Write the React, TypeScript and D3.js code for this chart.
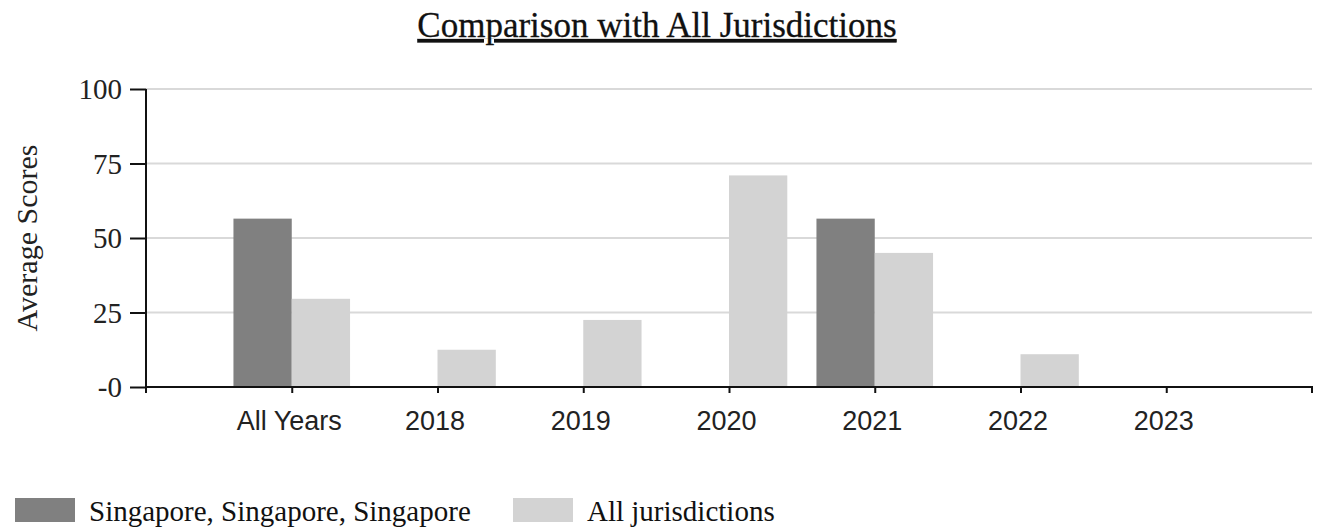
import React, { useEffect, useRef } from 'react';
import * as d3 from 'd3';

const categories = ['All Years', '2018', '2019', '2020', '2021', '2022', '2023'];
const seriesNames = ['Singapore, Singapore, Singapore', 'All jurisdictions'];
const singaporeValues = [56.5, null, null, null, 56.5, null, null];
const allJurisdictionValues = [29.6, 12.5, 22.5, 71, 45, 11, null];
const yTicks = [0, 25, 50, 75, 100];
const seriesColors = ['#808080', '#d3d3d3'];

export default function App() {
  const svgRef = useRef<SVGSVGElement>(null);

  useEffect(() => {
    if (!svgRef.current) return;
    document.body.style.margin = '0';

    const width = 1317;
    const height = 527;
    const left = 146;
    const right = 1312;
    const top = 89;
    const bottom = 387;

    const svg = d3.select(svgRef.current);
    svg.selectAll('*').remove();
    svg.attr('width', width).attr('height', height);

    const x = d3.scalePoint<string>().domain(categories).range([left, right]).padding(1);
    const step = x.step();
    const y = d3.scaleLinear().domain([0, 100]).range([bottom, top]);
    const x1 = d3.scaleBand<number>().domain([0, 1]).range([-step * 0.4, step * 0.4]);

    // title
    svg.append('text')
      .attr('x', 657)
      .attr('y', 37)
      .attr('text-anchor', 'middle')
      .style('font-family', '"Liberation Serif", serif')
      .style('font-size', '35px')
      .style('text-decoration', 'underline')
      .attr('fill', '#111')
      .attr('stroke', '#111')
      .attr('stroke-width', 0.3)
      .text('Comparison with All Jurisdictions');

    // grid
    svg.append('g')
      .selectAll('line')
      .data(yTicks.filter(d => d > 0))
      .enter()
      .append('line')
      .attr('x1', left)
      .attr('x2', right)
      .attr('y1', d => y(d))
      .attr('y2', d => y(d))
      .attr('stroke', '#d9d9d9')
      .attr('stroke-width', 2);

    // bars
    const series = [singaporeValues, allJurisdictionValues];
    series.forEach((vals, si) => {
      svg.append('g')
        .selectAll('rect')
        .data(categories.map((c, i) => ({ c, v: vals[i] })).filter(d => d.v != null))
        .enter()
        .append('rect')
        .attr('x', d => (x(d.c) as number) + (x1(si) as number))
        .attr('y', d => y(d.v as number))
        .attr('width', x1.bandwidth())
        .attr('height', d => bottom - y(d.v as number))
        .attr('fill', seriesColors[si]);
    });

    // y axis
    const yAxis = svg.append('g')
      .attr('transform', `translate(${left},0)`)
      .call(d3.axisLeft(y).tickValues(yTicks).tickSize(16).tickPadding(8)
        .tickFormat(d => (d === 0 ? '-0' : String(d))));
    yAxis.select('.domain').attr('stroke', '#111').attr('stroke-width', 2)
      .attr('d', `M0,${top}V${bottom + 6}`);
    yAxis.selectAll('.tick line').attr('stroke', '#111').attr('stroke-width', 2);
    yAxis.selectAll('.tick text')
      .style('font-family', '"Liberation Serif", serif')
      .style('font-size', '29px')
      .attr('fill', '#222')
      .attr('dy', '0.34em');

    // x axis
    const xAxis = svg.append('g')
      .attr('transform', `translate(0,${bottom})`)
      .call(d3.axisBottom(x).tickSize(6).tickSizeOuter(6).tickPadding(18));
    xAxis.select('.domain').attr('stroke', '#111').attr('stroke-width', 2)
      .attr('d', `M${left},0H${right}V6`);
    xAxis.selectAll('.tick line').attr('stroke', '#111').attr('stroke-width', 2);
    xAxis.selectAll('.tick text')
      .style('font-family', '"Liberation Sans", Arial, sans-serif')
      .style('font-size', '27px')
      .attr('fill', '#222')
      .attr('dx', '-3');

    // y label
    svg.append('text')
      .attr('transform', `translate(37,${(top + bottom) / 2}) rotate(-90)`)
      .attr('text-anchor', 'middle')
      .style('font-family', '"Liberation Serif", serif')
      .style('font-size', '30px')
      .attr('fill', '#222')
      .text('Average Scores');

    // legend
    const legendX = [15, 513];
    const leg = svg.append('g');
    seriesNames.forEach((name, i) => {
      leg.append('rect')
        .attr('x', legendX[i])
        .attr('y', 498)
        .attr('width', 60)
        .attr('height', 24)
        .attr('fill', seriesColors[i]);
      leg.append('text')
        .attr('x', legendX[i] + 74)
        .attr('y', 521)
        .style('font-family', '"Liberation Serif", serif')
        .style('font-size', '29px')
        .attr('fill', '#111')
        .text(name);
    });
  }, []);

  return <svg ref={svgRef} style={{ display: 'block' }}></svg>;
}
